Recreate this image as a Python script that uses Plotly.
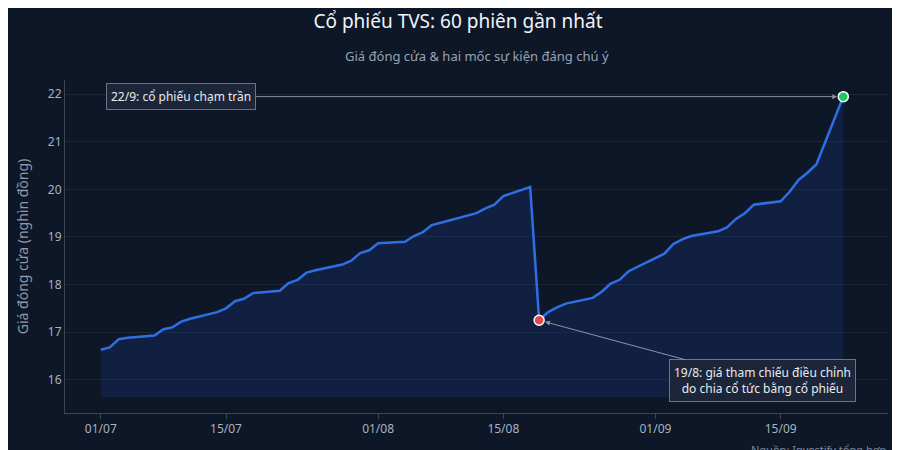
import plotly.graph_objects as go
import pandas as pd

dates = (
    ["2025-07-%02d" % d for d in [1,2,3,4,7,8,9,10,11,14,15,16,17,18,21,22,23,24,25,28,29,30,31]]
    + ["2025-08-%02d" % d for d in [1,4,5,6,7,8,11,12,13,14,15,18,19,20,21,22,25,26,27,28,29]]
    + ["2025-09-%02d" % d for d in [1,2,3,4,5,8,9,10,11,12,15,16,17,18,19,22]]
)
prices = [16.63,16.68,16.85,16.88,16.93,17.06,17.1,17.22,17.28,17.42,17.5,17.65,17.7,17.82,17.87,18.03,18.1,18.25,18.3,18.42,18.5,18.66,18.72,
          18.87,18.9,19.02,19.1,19.25,19.3,19.45,19.5,19.6,19.68,19.86,20.05,17.25,17.42,17.52,17.6,17.72,17.85,18.02,18.1,18.28,
          18.55,18.65,18.85,18.95,19.02,19.12,19.2,19.38,19.5,19.68,19.75,19.95,20.2,20.35,20.53,21.95]
base_value = 15.63
x = pd.to_datetime(dates)

fig = go.Figure()
fig.add_trace(go.Scatter(x=x, y=[base_value]*len(x), mode="lines", line=dict(width=0), hoverinfo="skip", showlegend=False))
fig.add_trace(go.Scatter(x=x, y=prices, mode="lines", line=dict(color="#2f6fe4", width=2.5),
                         fill="tonexty", fillcolor="rgba(30,70,160,0.22)", showlegend=False))
i_adj = dates.index("2025-08-19")
fig.add_trace(go.Scatter(x=[x[i_adj]], y=[prices[i_adj]], mode="markers",
                         marker=dict(color="#e5484d", size=10, line=dict(color="white", width=1.5)), showlegend=False))
fig.add_trace(go.Scatter(x=[x[-1]], y=[prices[-1]], mode="markers",
                         marker=dict(color="#22c55e", size=10, line=dict(color="white", width=1.5)), showlegend=False))

fig.add_annotation(x=x[-1], y=prices[-1], ax=pd.Timestamp("2025-07-10"), ay=prices[-1], axref="x", ayref="y",
                   text="22/9: cổ phiếu chạm trần", showarrow=True, arrowhead=2, arrowsize=1, arrowwidth=1,
                   arrowcolor="#8a94a6", standoff=6, font=dict(color="#e6ebf2", size=12),
                   bgcolor="#1c2638", bordercolor="#6b7587", borderwidth=1, borderpad=4)
fig.add_annotation(x=x[i_adj], y=prices[i_adj], ax=pd.Timestamp("2025-09-13"), ay=15.98, axref="x", ayref="y",
                   text="19/8: giá tham chiếu điều chỉnh<br>do chia cổ tức bằng cổ phiếu", showarrow=True,
                   arrowhead=2, arrowsize=1, arrowwidth=1, arrowcolor="#8a94a6", standoff=6,
                   font=dict(color="#e6ebf2", size=12), bgcolor="#1c2638", bordercolor="#6b7587",
                   borderwidth=1, borderpad=4)
fig.add_annotation(xref="paper", yref="paper", x=1.0, y=-0.08, xanchor="right", yanchor="top",
                   text="Nguồn: Investify tổng hợp", showarrow=False, font=dict(color="#7d8799", size=11))
fig.add_annotation(xref="paper", yref="paper", x=0.5, y=1.04, xanchor="center", yanchor="bottom",
                   text="Giá đóng cửa & hai mốc sự kiện đáng chú ý", showarrow=False, font=dict(color="#9aa3b2", size=13))

fig.update_layout(
    width=900, height=450, paper_bgcolor="#0d1727", plot_bgcolor="#0d1727",
    font=dict(family="Noto Sans", color="#a9b2c0"),
    title=dict(text="Cổ phiếu TVS: 60 phiên gần nhất", x=0.5, y=0.985, yanchor="top", font=dict(size=19, color="#f2f4f8")),
    margin=dict(l=57, r=20, t=72, b=45),
    xaxis=dict(range=["2025-06-27", "2025-09-27"], tickvals=pd.to_datetime(["2025-07-01","2025-07-15","2025-08-01","2025-08-15","2025-09-01","2025-09-15"]),
               tickformat="%d/%m", showgrid=False, showline=True, linecolor="#3a4558", ticks="outside",
               tickcolor="#3a4558", tickfont=dict(size=12, color="#a9b2c0")),
    yaxis=dict(range=[15.3, 22.3], dtick=1, title=dict(text="Giá đóng cửa (nghìn đồng)", font=dict(size=14, color="#8f99a8")),
               gridcolor="#1a2536", zeroline=False, showline=True, linecolor="#3a4558", tickfont=dict(size=12, color="#a9b2c0")),
)
fig.write_html("out.html")
